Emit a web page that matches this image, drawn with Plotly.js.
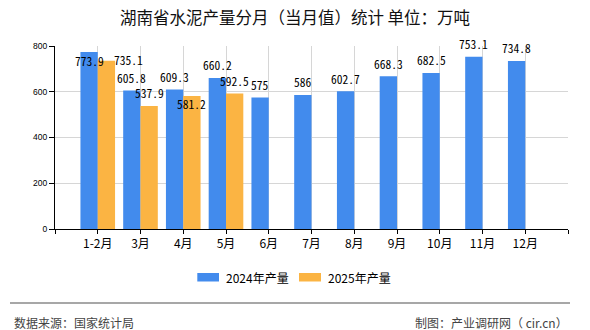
<!DOCTYPE html>
<html>
<head>
<meta charset="utf-8">
<script src="https://cdn.plot.ly/plotly-3.0.1.min.js"></script>
<style>
html,body{margin:0;padding:0;background:#fff;}
#chart{width:590px;height:330px;}
</style>
</head>
<body>
<div id="chart"></div>
<script>
// ---- data ----
const categories = ['1-2月','3月','4月','5月','6月','7月','8月','9月','10月','11月','12月'];
const values2024 = [773.9, 605.8, 609.3, 660.2, 575, 586, 602.7, 668.3, 682.5, 753.1, 734.8];
const values2025 = [735.1, 537.9, 581.2, 592.5, null, null, null, null, null, null, null];
const seriesNames = ['2024年产量', '2025年产量'];
const yTicks = [0, 200, 400, 600, 800];
const titleText = '湖南省水泥产量分月（当月值）统计 单位：万吨';
const sourceText = '数据来源：国家统计局';
const makerText = '制图：产业调研网（ cir.cn）';

// ---- style ----
const W = 590, H = 330;
const M = {l: 55, r: 22, t: 46, b: 101};
const colors = ['#428bed', '#fbb443'];
const BARGAP = 0.19;
const CJK = '"Noto Sans CJK SC", "Noto Sans", sans-serif';
const MONO = '"Noto Sans Mono CJK SC", "Liberation Mono", monospace';
const px2x = px => (px - M.l) / (W - M.l - M.r);
const px2y = py => (H - M.b - py) / (H - M.t - M.b);

const idx = categories.map((c, i) => i);

const traces = [values2024, values2025].map((vals, s) => ({
  type: 'bar',
  name: seriesNames[s],
  x: idx,
  y: vals,
  marker: {color: colors[s]},
  showlegend: false,
  hoverinfo: 'skip'
}));

// label nudges (layout tweaks to mimic label collision avoidance)
const nudge = {
  '0-0': {xs: 0, ys: -8.7},
  '1-0': {xs: 22, ys: 1},
  '1-2': {xs: 0, ys: -8}
};

const annotations = [];
const off = (1 - BARGAP) / 4;
[values2024, values2025].forEach((vals, s) => {
  vals.forEach((v, i) => {
    if (v === null) return;
    const n = nudge[s + '-' + i] || {xs: 0, ys: 12.5};
    annotations.push({
      x: i + (s === 0 ? -off : off), y: v, xref: 'x', yref: 'y',
      text: String(v), showarrow: false,
      xanchor: 'center', yanchor: 'middle',
      xshift: n.xs, yshift: n.ys,
      font: {family: MONO, size: 11.5, color: '#000', weight: 300}
    });
  });
});

// custom legend
const shapes = [];
const legendItems = [
  {sx0: 197.3, sx1: 219, tx: 223.5},
  {sx0: 299, sx1: 321, tx: 325.7}
];
legendItems.forEach((it, s) => {
  shapes.push({type: 'rect', xref: 'paper', yref: 'paper',
    x0: px2x(it.sx0), x1: px2x(it.sx1), y0: px2y(273), y1: px2y(281.5),
    fillcolor: colors[s], line: {width: 0}});
  annotations.push({xref: 'paper', yref: 'paper', x: px2x(it.tx), y: px2y(277.5),
    xanchor: 'left', yanchor: 'middle', showarrow: false, text: seriesNames[s],
    font: {family: CJK, size: 12, color: '#000'}});
});

// footer
shapes.push({type: 'line', xref: 'paper', yref: 'paper',
  x0: px2x(10), x1: px2x(570), y0: px2y(303), y1: px2y(303),
  line: {color: '#8a8a8a', width: 1.5}});
annotations.push({xref: 'paper', yref: 'paper', x: px2x(12), y: px2y(322),
  xanchor: 'left', yanchor: 'middle', showarrow: false, text: sourceText,
  font: {family: CJK, size: 12, color: '#444'}});
annotations.push({xref: 'paper', yref: 'paper', x: px2x(570), y: px2y(322),
  xanchor: 'right', yanchor: 'middle', showarrow: false, text: makerText,
  font: {family: CJK, size: 12, color: '#444'}});

const tickvals = [-1].concat(idx, [categories.length]);
const ticktext = [''].concat(categories, ['']);

const layout = {
  width: W, height: H,
  margin: M,
  paper_bgcolor: '#fff', plot_bgcolor: '#fff',
  barmode: 'group', bargap: BARGAP, bargroupgap: 0,
  title: {text: titleText, x: 0.5, xref: 'container', xanchor: 'center',
    y: 1 - 18 / H, yref: 'container', yanchor: 'middle',
    font: {family: CJK, size: 16.5, color: '#111'}},
  xaxis: {
    range: [-1, categories.length], tickmode: 'array', tickvals: tickvals, ticktext: ticktext,
    showline: true, linecolor: '#000', linewidth: 1,
    ticks: 'outside', ticklen: 4, tickcolor: '#000',
    showgrid: true, gridcolor: '#d6d6d6', gridwidth: 1, zeroline: false,
    tickfont: {family: CJK, size: 12, color: '#000'}, fixedrange: true
  },
  yaxis: {
    range: [0, 800], tickmode: 'array', tickvals: yTicks,
    showline: true, linecolor: '#000', linewidth: 1,
    ticks: 'outside', ticklen: 5, tickcolor: '#000',
    showgrid: true, gridcolor: '#d6d6d6', gridwidth: 1, zeroline: false,
    tickfont: {family: '"Liberation Sans", Arial, sans-serif', size: 8.5, color: '#000'},
    fixedrange: true
  },
  shapes: shapes,
  annotations: annotations,
  showlegend: false
};

Plotly.newPlot('chart', traces, layout, {displayModeBar: false, staticPlot: true});
</script>
</body>
</html>
